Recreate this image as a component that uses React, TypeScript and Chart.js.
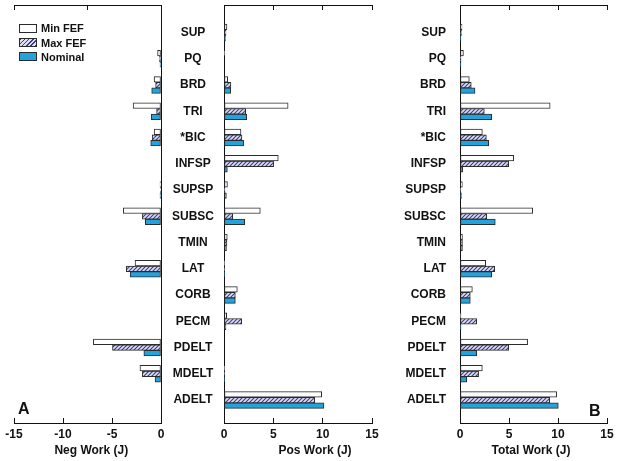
import React, { useEffect, useRef } from 'react';
import { Chart, registerables } from 'chart.js';

Chart.register(...registerables);

// ---------- data ----------
const categories = ['SUP', 'PQ', 'BRD', 'TRI', '*BIC', 'INFSP', 'SUPSP', 'SUBSC', 'TMIN', 'LAT', 'CORB', 'PECM', 'PDELT', 'MDELT', 'ADELT'];
const seriesNames = ['Min FEF', 'Max FEF', 'Nominal'];

const negMinFEF = [0, -0.35, -0.7, -2.85, -0.7, 0, -0.1, -3.85, 0, -2.65, 0, 0, -6.9, -2.15, 0];
const negMaxFEF = [0, -0.15, -0.55, -0.45, -0.9, 0, -0.05, -1.9, 0, -3.55, 0, 0, -4.95, -1.9, 0];
const negNominal = [0, -0.1, -0.95, -1.0, -1.05, 0, -0.1, -1.6, 0, -3.15, 0, 0, -1.75, -0.6, 0];

const posMinFEF = [0.3, 0.05, 0.37, 6.5, 1.72, 5.5, 0.35, 3.68, 0.33, 0.05, 1.35, 0.27, 0, 0.05, 9.9];
const posMaxFEF = [0.2, 0, 0.7, 2.2, 1.82, 5.03, 0.1, 0.88, 0.3, 0.05, 1.15, 1.79, 0, 0.05, 9.19];
const posNominal = [0.15, 0, 0.68, 2.3, 1.99, 0.34, 0.24, 2.1, 0.25, 0.05, 1.15, 0.2, 0, 0.05, 10.13];

const totMinFEF = [0.2, 0.35, 0.95, 9.2, 2.28, 5.48, 0.24, 7.42, 0.25, 2.62, 1.26, 0.1, 6.9, 2.28, 9.86];
const totMaxFEF = [0.15, 0.1, 1.15, 2.48, 2.69, 4.97, 0.05, 2.72, 0.25, 3.54, 1.05, 1.7, 4.97, 1.9, 9.15];
const totNominal = [0.1, 0.1, 1.53, 3.23, 2.93, 0.27, 0.15, 3.6, 0.25, 3.23, 1.05, 0.1, 1.7, 0.68, 10.03];

const negTicks = [-15, -10, -5, 0];
const negTopTicks = [-15, -7.5, 0];
const posTicks = [0, 5, 10, 15];
const posTopTicks = [0, 5, 10, 15];

const axisTitles = ['Neg Work (J)', 'Pos Work (J)', 'Total Work (J)'];
const panelLetters = ['A', 'B'];

// ---------- style ----------
const W = 618;
const H = 461;
const FONT = "'Liberation Sans', Arial, Helvetica, sans-serif";
const BLUE = '#22a3dd';
const EDGE = '#2b2b2b';
const INK = '#111111';
const HATCH_BG = '#dcdcf2';
const HATCH_FG = '#3c3c88';
const Y_MIN = -1.048;
const Y_MAX = 14.876;

type Panel = {
  series: number[][];
  min: number;
  max: number;
  bottomTicks: number[];
  topTicks: number[];
  areaLeft: number;
  areaRight: number;
  yPosition: 'left' | 'right';
  yWidth: number;
  showCats: boolean;
  catAlign: 'center' | 'near';
  catPad: number;
};

const panelA: Panel = {
  series: [negMinFEF, negMaxFEF, negNominal],
  min: -15, max: 0,
  bottomTicks: negTicks, topTicks: negTopTicks,
  areaLeft: 14, areaRight: 161,
  yPosition: 'right', yWidth: 0,
  showCats: false, catAlign: 'near', catPad: 0,
};
const panelMid: Panel = {
  series: [posMinFEF, posMaxFEF, posNominal],
  min: 0, max: 15,
  bottomTicks: posTicks, topTicks: posTopTicks,
  areaLeft: 224, areaRight: 372,
  yPosition: 'left', yWidth: 63,
  showCats: true, catAlign: 'center', catPad: 10,
};
const panelB: Panel = {
  series: [totMinFEF, totMaxFEF, totNominal],
  min: 0, max: 15,
  bottomTicks: posTicks, topTicks: posTopTicks,
  areaLeft: 460, areaRight: 607,
  yPosition: 'left', yWidth: 60,
  showCats: true, catAlign: 'near', catPad: 14,
};

function hatchPattern(): CanvasPattern | string {
  const c = document.createElement('canvas');
  c.width = 4;
  c.height = 4;
  const g = c.getContext('2d');
  if (!g) return '#a8a8d8';
  g.fillStyle = HATCH_BG;
  g.fillRect(0, 0, 4, 4);
  g.strokeStyle = HATCH_FG;
  g.lineWidth = 1.1;
  g.beginPath();
  g.moveTo(0, 4); g.lineTo(4, 0);
  g.moveTo(-1, 1); g.lineTo(1, -1);
  g.moveTo(3, 5); g.lineTo(5, 3);
  g.stroke();
  return g.createPattern(c, 'repeat') ?? '#a8a8d8';
}

const zeroPad = (s: any) => {
  s.paddingTop = 0;
  s.paddingBottom = 0;
  s.paddingLeft = 0;
  s.paddingRight = 0;
};

function PanelChart({ p }: { p: Panel }) {
  const ref = useRef<HTMLCanvasElement>(null);
  useEffect(() => {
    const canvas = ref.current;
    if (!canvas) return;
    const fills = ['#ffffff', hatchPattern(), BLUE];
    const tickFont = { family: FONT, size: 12, weight: 'bold' as const };
    const padL = p.yPosition === 'left' ? p.areaLeft - p.yWidth : p.areaLeft;
    const padR = p.yPosition === 'left' ? W - p.areaRight : W - p.areaRight - p.yWidth;
    const chart = new Chart(canvas, {
      type: 'bar',
      data: {
        datasets: p.series.map((vals, k) => ({
          label: seriesNames[k],
          data: vals.map((v, i) => ({ x: v, y: i })),
          backgroundColor: fills[k] as any,
          borderColor: EDGE,
          borderWidth: 1,
          borderSkipped: false,
          barThickness: 5.6,
        })),
      },
      options: {
        indexAxis: 'y',
        responsive: false,
        animation: false,
        devicePixelRatio: 1,
        layout: { padding: { left: padL, right: padR, top: 0, bottom: 0 } },
        plugins: { legend: { display: false }, tooltip: { enabled: false } },
        scales: {
          x: {
            type: 'linear',
            position: 'bottom',
            min: p.min,
            max: p.max,
            offset: false,
            afterBuildTicks: (s: any) => { s.ticks = p.bottomTicks.map((v) => ({ value: v })); },
            ticks: { font: tickFont, color: INK, padding: 9, maxRotation: 0 },
            grid: { drawOnChartArea: false, drawTicks: true, tickLength: -5, color: INK, lineWidth: 1 },
            border: { display: true, color: INK, width: 1 },
            afterFit: (s: any) => { s.height = 38; zeroPad(s); },
          },
          x2: {
            type: 'linear',
            position: 'top',
            min: p.min,
            max: p.max,
            offset: false,
            afterBuildTicks: (s: any) => { s.ticks = p.topTicks.map((v) => ({ value: v })); },
            ticks: { display: false },
            grid: { drawOnChartArea: false, drawTicks: true, tickLength: -5, color: INK, lineWidth: 1 },
            border: { display: true, color: INK, width: 1 },
            afterFit: (s: any) => { s.height = 5; zeroPad(s); },
          },
          y: {
            type: 'linear',
            position: p.yPosition,
            reverse: true,
            offset: false,
            min: Y_MIN,
            max: Y_MAX,
            afterBuildTicks: (s: any) => { s.ticks = categories.map((_, i) => ({ value: i })); },
            ticks: {
              display: p.showCats,
              autoSkip: false,
              font: tickFont,
              color: INK,
              padding: p.catPad,
              crossAlign: p.catAlign,
              callback: (v: any) => categories[Math.round(Number(v))] ?? '',
            },
            grid: { display: false, drawTicks: false, offset: false },
            border: { display: true, color: INK, width: 1 },
            afterFit: (s: any) => { s.width = p.yWidth; zeroPad(s); },
          },
        },
      } as any,
    });
    return () => chart.destroy();
  }, [p]);
  return (
    <canvas
      ref={ref}
      width={W}
      height={H}
      style={{ position: 'absolute', left: 0, top: 0, width: W, height: H }}
    />
  );
}

const swatches = [
  '#ffffff',
  `repeating-linear-gradient(135deg, ${HATCH_FG} 0px, ${HATCH_FG} 1px, ${HATCH_BG} 1px, ${HATCH_BG} 3px)`,
  BLUE,
];

const titleStyle = (cx: number): React.CSSProperties => ({
  position: 'absolute',
  left: cx,
  top: 443.5,
  transform: 'translateX(-50%)',
  font: `bold 12px ${FONT}`,
  lineHeight: '12px',
  whiteSpace: 'nowrap',
  color: INK,
});

export default function App() {
  return (
    <div style={{ position: 'absolute', left: 0, top: 0, width: W, height: H, background: '#ffffff', overflow: 'hidden' }}>
      <PanelChart p={panelA} />
      <PanelChart p={panelMid} />
      <PanelChart p={panelB} />

      <div style={{ position: 'absolute', left: 19, top: 21.2, font: `bold 11px ${FONT}`, color: INK }}>
        {seriesNames.map((n, k) => (
          <div key={n} style={{ display: 'flex', alignItems: 'center', height: 14.3 }}>
            <span style={{ flexShrink: 0, width: 16, height: 7, border: `1px solid ${EDGE}`, background: swatches[k], marginRight: 4 }} />
            <span style={{ lineHeight: '12px' }}>{n}</span>
          </div>
        ))}
      </div>

      <div style={titleStyle(91.3)}>{axisTitles[0]}</div>
      <div style={titleStyle(315)}>{axisTitles[1]}</div>
      <div style={titleStyle(531)}>{axisTitles[2]}</div>

      <div style={{ position: 'absolute', left: 18, top: 401, font: `bold 16px ${FONT}`, lineHeight: '16px', color: INK }}>{panelLetters[0]}</div>
      <div style={{ position: 'absolute', left: 589, top: 403, font: `bold 16px ${FONT}`, lineHeight: '16px', color: INK }}>{panelLetters[1]}</div>
    </div>
  );
}
